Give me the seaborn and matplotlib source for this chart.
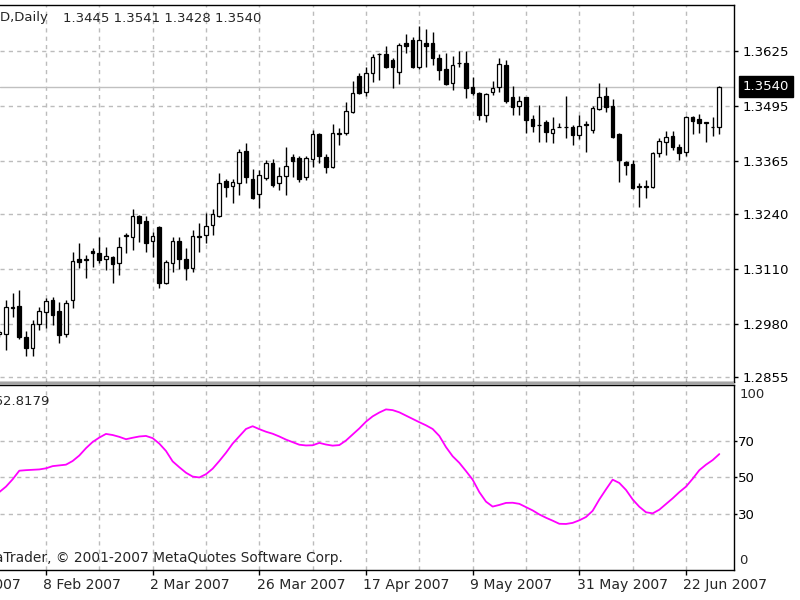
import numpy as np
import pandas as pd
import matplotlib
matplotlib.use('Agg')
import matplotlib.pyplot as plt
import seaborn as sns
from matplotlib.patches import Rectangle

# Daily bars, EURUSD, ending 29 Jun 2007
dates = pd.bdate_range(end='2007-06-29', periods=109)

opens = [1.2956, 1.2958, 1.3018, 1.3022, 1.2951, 1.2925, 1.2980, 1.3008, 1.3036, 1.3010,
         1.2958, 1.3036, 1.3133, 1.3131, 1.3152, 1.3148, 1.3133, 1.3138, 1.3124, 1.3188,
         1.3185, 1.3235, 1.3223, 1.3176, 1.3209, 1.3077, 1.3124, 1.3176, 1.3133, 1.3112,
         1.3185, 1.3190, 1.3214, 1.3235, 1.3318, 1.3306, 1.3313, 1.3389, 1.3322, 1.3287,
         1.3325, 1.3360, 1.3313, 1.3330, 1.3374, 1.3372, 1.3327, 1.3370, 1.3429, 1.3374,
         1.3351, 1.3429, 1.3431, 1.3481, 1.3566, 1.3528, 1.3573, 1.3616, 1.3618, 1.3604,
         1.3575, 1.3642, 1.3649, 1.3587, 1.3642, 1.3642, 1.3608, 1.3582, 1.3549, 1.3597,
         1.3597, 1.3540, 1.3526, 1.3474, 1.3528, 1.3540, 1.3590, 1.3516, 1.3495, 1.3516,
         1.3464, 1.3450, 1.3457, 1.3431, 1.3445, 1.3445, 1.3445, 1.3426, 1.3450, 1.3438,
         1.3488, 1.3519, 1.3495, 1.3429, 1.3363, 1.3358, 1.3304, 1.3304, 1.3304, 1.3384,
         1.3410, 1.3424, 1.3398, 1.3386, 1.3469, 1.3464, 1.3455, 1.3445, 1.3445]
highs = [1.2966, 1.3036, 1.3053, 1.3060, 1.2963, 1.2989, 1.3020, 1.3041, 1.3043, 1.3032,
         1.3036, 1.3150, 1.3171, 1.3143, 1.3159, 1.3185, 1.3162, 1.3140, 1.3185, 1.3195,
         1.3252, 1.3237, 1.3235, 1.3197, 1.3211, 1.3131, 1.3185, 1.3185, 1.3159, 1.3202,
         1.3218, 1.3242, 1.3252, 1.3337, 1.3322, 1.3322, 1.3393, 1.3408, 1.3346, 1.3344,
         1.3367, 1.3370, 1.3351, 1.3398, 1.3381, 1.3377, 1.3377, 1.3438, 1.3431, 1.3381,
         1.3452, 1.3443, 1.3504, 1.3554, 1.3573, 1.3587, 1.3616, 1.3620, 1.3637, 1.3608,
         1.3642, 1.3665, 1.3656, 1.3684, 1.3677, 1.3668, 1.3618, 1.3620, 1.3613, 1.3625,
         1.3623, 1.3564, 1.3528, 1.3526, 1.3554, 1.3608, 1.3604, 1.3542, 1.3519, 1.3516,
         1.3474, 1.3497, 1.3462, 1.3469, 1.3455, 1.3519, 1.3450, 1.3474, 1.3460, 1.3495,
         1.3549, 1.3540, 1.3512, 1.3431, 1.3365, 1.3367, 1.3313, 1.3320, 1.3386, 1.3419,
         1.3436, 1.3436, 1.3405, 1.3471, 1.3471, 1.3476, 1.3457, 1.3469, 1.3541]
lows = [1.2951, 1.2918, 1.2996, 1.2944, 1.2906, 1.2906, 1.2966, 1.2970, 1.2977, 1.2935,
        1.2949, 1.3018, 1.3112, 1.3088, 1.3114, 1.3124, 1.3107, 1.3077, 1.3096, 1.3148,
        1.3155, 1.3174, 1.3150, 1.3138, 1.3065, 1.3074, 1.3103, 1.3110, 1.3084, 1.3103,
        1.3150, 1.3171, 1.3190, 1.3233, 1.3280, 1.3266, 1.3285, 1.3313, 1.3275, 1.3254,
        1.3320, 1.3304, 1.3296, 1.3285, 1.3327, 1.3315, 1.3320, 1.3351, 1.3360, 1.3337,
        1.3349, 1.3403, 1.3426, 1.3478, 1.3523, 1.3519, 1.3552, 1.3556, 1.3585, 1.3538,
        1.3547, 1.3620, 1.3585, 1.3582, 1.3587, 1.3590, 1.3556, 1.3545, 1.3533, 1.3587,
        1.3514, 1.3521, 1.3462, 1.3457, 1.3521, 1.3528, 1.3502, 1.3474, 1.3474, 1.3431,
        1.3433, 1.3410, 1.3410, 1.3408, 1.3444, 1.3419, 1.3403, 1.3417, 1.3386, 1.3431,
        1.3486, 1.3481, 1.3419, 1.3315, 1.3332, 1.3299, 1.3256, 1.3278, 1.3301, 1.3374,
        1.3379, 1.3391, 1.3367, 1.3377, 1.3429, 1.3431, 1.3410, 1.3424, 1.3428]
closes = [1.2961, 1.3020, 1.3020, 1.2949, 1.2923, 1.2980, 1.3010, 1.3034, 1.3001, 1.2954,
          1.3029, 1.3129, 1.3126, 1.3133, 1.3148, 1.3131, 1.3140, 1.3122, 1.3162, 1.3190,
          1.3235, 1.3218, 1.3171, 1.3188, 1.3077, 1.3126, 1.3176, 1.3133, 1.3112, 1.3188,
          1.3188, 1.3211, 1.3240, 1.3313, 1.3304, 1.3315, 1.3386, 1.3327, 1.3278, 1.3332,
          1.3360, 1.3308, 1.3330, 1.3353, 1.3365, 1.3322, 1.3372, 1.3429, 1.3377, 1.3351,
          1.3431, 1.3431, 1.3483, 1.3526, 1.3526, 1.3573, 1.3611, 1.3618, 1.3587, 1.3587,
          1.3639, 1.3635, 1.3587, 1.3649, 1.3635, 1.3608, 1.3580, 1.3547, 1.3590, 1.3596,
          1.3538, 1.3526, 1.3474, 1.3523, 1.3538, 1.3594, 1.3507, 1.3493, 1.3507, 1.3462,
          1.3448, 1.3449, 1.3433, 1.3441, 1.3446, 1.3446, 1.3426, 1.3448, 1.3451, 1.3490,
          1.3516, 1.3493, 1.3422, 1.3367, 1.3355, 1.3301, 1.3306, 1.3306, 1.3384, 1.3412,
          1.3422, 1.3398, 1.3384, 1.3469, 1.3460, 1.3455, 1.3456, 1.3446, 1.3540]

rsi = [42.0, 45.0, 49.0, 53.7, 54.0, 54.2, 54.4, 55.0, 56.2, 56.6,
       57.0, 59.0, 62.0, 66.0, 69.4, 71.8, 73.8, 73.2, 72.2, 70.9,
       71.7, 72.4, 72.7, 71.5, 68.5, 64.5, 58.8, 55.6, 52.6, 50.5,
       50.0, 51.8, 54.8, 59.0, 63.5, 68.5, 72.5, 76.5, 78.0, 76.4,
       75.0, 73.9, 72.4, 70.7, 69.3, 67.9, 67.5, 67.6, 68.9, 68.0,
       67.4, 67.7, 70.2, 73.5, 76.8, 80.5, 83.4, 85.5, 87.2, 86.8,
       85.6, 83.8, 82.0, 80.2, 78.5, 76.5, 72.7, 66.6, 61.6, 58.0,
       53.5, 48.8, 42.0, 36.8, 34.1, 35.0, 36.1, 36.2, 35.6, 33.8,
       32.0, 29.8, 28.0, 26.4, 24.7, 24.6, 25.2, 26.6, 28.4, 31.8,
       38.0, 43.5, 48.8, 47.0, 43.2, 38.0, 34.0, 31.0, 30.4, 32.4,
       35.5, 38.6, 42.0, 45.0, 49.3, 54.0, 57.0, 59.5, 62.8]

price_ticks = [1.3625, 1.3495, 1.3365, 1.3240, 1.3110, 1.2980, 1.2855]
rsi_ticks = [70, 50, 30]
symbol = 'EURUSD,Daily'
rsi_label = 'RSI(14) 62.8179'
copyright_text = 'MetaTrader, © 2001-2007 MetaQuotes Software Corp.'

df = pd.DataFrame({'bar': np.arange(len(dates)), 'date': dates,
                   'open': opens, 'high': highs, 'low': lows, 'close': closes,
                   'rsi': rsi})

sns.set_style('white')
plt.rcParams['font.family'] = ['DejaVu Sans']
plt.rcParams['font.size'] = 9.5

W, H = 800, 600
fig = plt.figure(figsize=(8, 6), dpi=100)


def box(l, t, r, b):
    return [l / W, 1 - b / H, (r - l) / W, (b - t) / H]


ax = fig.add_axes(box(0, 4.5, 734, 381.5))
ax2 = fig.add_axes(box(0, 384.5, 734, 570), sharex=ax)

grid_kw = dict(color='#bcbcbc', linestyle=(0, (3, 3)), linewidth=1.0)
major = list(range(7, len(df), 16))
minor = list(range(15, len(df), 16))

# candles
up = df['close'] >= df['open']
body = (df['close'] - df['open']).abs()
ax.vlines(df['bar'], df['low'], df['high'], color='black', linewidth=1.0, zorder=3)
ax.bar(df['bar'], body, bottom=np.minimum(df['open'], df['close']), width=0.55,
       color=np.where(up, 'white', 'black'), edgecolor='black', linewidth=0.9, zorder=4)

last = df.iloc[-1]
ax.axhline(last['close'], color='#c0c0c0', linewidth=1.0, zorder=2)

ax.set_xlim(0.105, 110.2)
ax.set_ylim(1.28449, 1.37338)
ax.set_axisbelow(True)
ax.yaxis.tick_right()
ax.set_yticks(price_ticks)
ax.set_yticklabels([f'{v:.4f}' for v in price_ticks])
ax.tick_params(axis='y', right=True, left=False, direction='out', length=3,
               width=1, pad=3.5, colors='black')
ax.tick_params(axis='x', which='both', bottom=False, labelbottom=False)
ax.grid(True, axis='y', **grid_kw)

ax.annotate(f"{last['close']:.4f}", xy=(1, last['close']),
            xycoords=('axes fraction', 'data'), xytext=(6.5, 0),
            textcoords='offset points', ha='left', va='center', color='white',
            bbox=dict(boxstyle='square,pad=0.3', fc='black', ec='black'),
            annotation_clip=False)

# indicator
sns.lineplot(data=df, x='bar', y='rsi', ax=ax2, color='#ff00ff', linewidth=1.3)
ax2.set_ylim(-0.55, 100.8)
ax2.set_xlabel('')
ax2.set_ylabel('')
ax2.set_axisbelow(True)
ax2.yaxis.tick_right()
ax2.set_yticks(rsi_ticks)
ax2.set_yticklabels([str(v) for v in rsi_ticks])
ax2.tick_params(axis='y', right=True, left=False, direction='out', length=2,
                width=1, pad=1, colors='black')
ax2.grid(True, axis='y', **grid_kw)
for v, yv in [('100', 95.1), ('0', 4.9)]:
    ax2.annotate(v, xy=(1, yv), xycoords=('axes fraction', 'data'), xytext=(4, 0),
                 textcoords='offset points', ha='left', va='center',
                 annotation_clip=False)

ax2.set_xticks(major)
ax2.set_xticks(minor, minor=True)
ax2.set_xticklabels([''] * len(major))
ax2.tick_params(axis='x', which='major', bottom=True, direction='out', length=3.6,
                width=1, colors='black')
ax2.tick_params(axis='x', which='minor', bottom=False)
for a in (ax, ax2):
    a.grid(True, axis='x', which='both', **grid_kw)
    a.spines['left'].set_visible(False)
    for s in ('top', 'right', 'bottom'):
        a.spines[s].set_visible(True)
        a.spines[s].set_color('black')
        a.spines[s].set_linewidth(1.0)

# date labels (including the one left of the view)
for b in [major[0] - 16] + major:
    d = dates[0] + pd.offsets.BDay(b)
    ax2.annotate(f"{d.day} {d.strftime('%b %Y')}", xy=(b, 0),
                 xycoords=('data', 'axes fraction'), xytext=(-2, -6),
                 textcoords='offset points', ha='left', va='top',
                 fontsize=10.1, annotation_clip=False)

# separator between panels
fig.patches.append(Rectangle((0, 1 - 384.5 / H), 734 / W, 3 / H,
                             transform=fig.transFigure, fc='#a4a4a4', ec='none'))

fig.text(49 / W, 1 - 18 / H, symbol, ha='right', va='center')
fig.text(63 / W, 1 - 18 / H,
         f"{last['open']:.4f} {last['high']:.4f} {last['low']:.4f} {last['close']:.4f}",
         ha='left', va='center')
fig.text(49 / W, 1 - 402 / H, rsi_label, ha='right', va='center')
fig.text(343 / W, 1 - 558 / H, copyright_text, ha='right', va='center', fontsize=9.9)

fig.savefig('out.png', dpi=100)
